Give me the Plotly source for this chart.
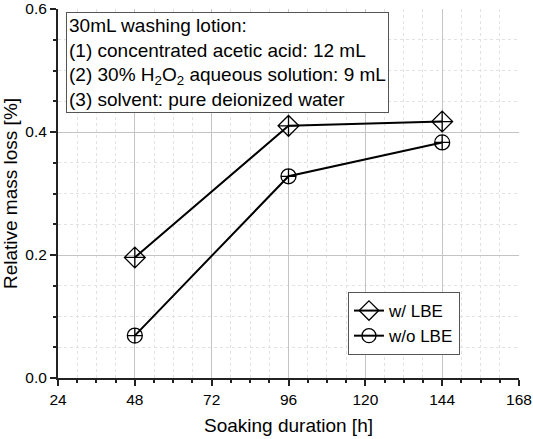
import plotly.graph_objects as go

# Soaking duration (h) and relative mass loss (%)
hours = [48, 96, 144]
with_lbe = [0.196, 0.410, 0.417]
without_lbe = [0.069, 0.328, 0.383]

x_ticks = [24, 48, 72, 96, 120, 144, 168]
y_ticks = [0.0, 0.2, 0.4, 0.6]

font = 'Liberation Sans, Arial, sans-serif'

fig = go.Figure()

# data lines (markers with a cross inside, as in the original)
fig.add_trace(go.Scatter(x=hours, y=with_lbe, mode='lines+markers', showlegend=False,
                         line=dict(color='black', width=2),
                         marker=dict(symbol='diamond-cross-open', size=16, color='black', line=dict(width=1.3))))
fig.add_trace(go.Scatter(x=hours, y=without_lbe, mode='lines+markers', showlegend=False,
                         line=dict(color='black', width=2),
                         marker=dict(symbol='circle-cross-open', size=15, color='black', line=dict(width=1.3))))

# legend entries (plain open markers)
fig.add_trace(go.Scatter(x=[None], y=[None], mode='lines+markers', name='w/ LBE',
                         line=dict(color='black', width=2),
                         marker=dict(symbol='diamond-open', size=15, color='black', line=dict(width=1.3))))
fig.add_trace(go.Scatter(x=[None], y=[None], mode='lines+markers', name='w/o LBE',
                         line=dict(color='black', width=2),
                         marker=dict(symbol='circle-open', size=14, color='black', line=dict(width=1.3))))

fig.add_annotation(
    xref='paper', yref='paper', x=0.017, y=0.992, xanchor='left', yanchor='top',
    align='left', showarrow=False,
    text='30mL washing lotion:<br>(1) concentrated acetic acid: 12 mL<br>'
         '(2) 30% H<sub>2</sub>O<sub>2</sub> aqueous solution: 9 mL<br>'
         '(3) solvent: pure deionized water',
    font=dict(family=font, size=19, color='black'),
    bgcolor='white', bordercolor='#555555', borderwidth=1, borderpad=2,
)

fig.update_layout(
    width=533, height=439,
    margin=dict(l=58, r=14, t=9, b=61),
    plot_bgcolor='white', paper_bgcolor='white',
    font=dict(family=font, size=15.5, color='black'),
    legend=dict(x=0.629, y=0.233, xanchor='left', yanchor='top',
                bordercolor='#555555', borderwidth=1, bgcolor='white',
                font=dict(size=17), itemwidth=30, tracegroupgap=0),
)

fig.update_xaxes(
    range=[24, 168], tickvals=x_ticks, automargin=False,
    title=dict(text='Soaking duration [h]', font=dict(size=19), standoff=12),
    showline=True, linecolor='#222222', linewidth=2, ticks='outside', ticklen=6, tickwidth=2, tickcolor='#222222',
    showgrid=True, gridcolor='#c4c4c4', gridwidth=1, zeroline=False,
    minor=dict(dtick=6, ticks='outside', ticklen=3, tickwidth=2, tickcolor='#222222',
               showgrid=True, gridcolor='#e2e2e2', griddash='dot', gridwidth=1),
)
fig.update_yaxes(
    range=[0, 0.6], tickvals=y_ticks, tickformat='.1f', automargin=False,
    title=dict(text='Relative mass loss [%]', font=dict(size=19), standoff=6),
    showline=True, linecolor='#222222', linewidth=2, ticks='outside', ticklen=6, tickwidth=2, tickcolor='#222222',
    showgrid=True, gridcolor='#c4c4c4', gridwidth=1, zeroline=False,
    minor=dict(dtick=0.05, ticks='outside', ticklen=3, tickwidth=2, tickcolor='#222222',
               showgrid=True, gridcolor='#e2e2e2', griddash='dot', gridwidth=1),
)

# remove the default page margin so the figure fills the window
fig.write_html('out.html', config={'displayModeBar': False},
               post_script="document.body.style.margin='0';document.body.style.overflow='hidden';")
